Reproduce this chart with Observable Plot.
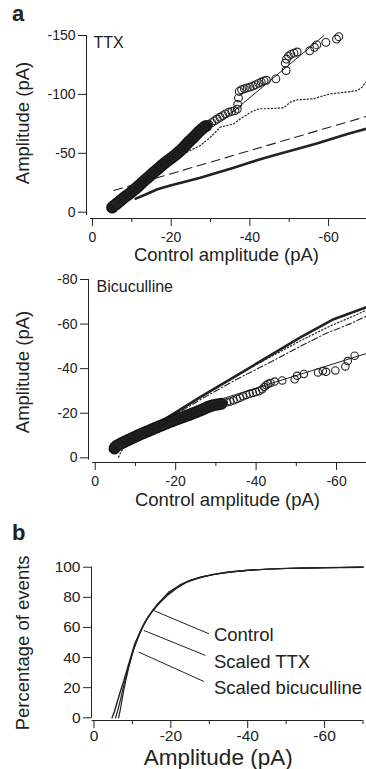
<!DOCTYPE html>
<html><head><meta charset="utf-8">
<script src="https://cdn.jsdelivr.net/npm/d3@7"></script>
<script src="https://cdn.jsdelivr.net/npm/@observablehq/plot@0.6"></script>
<style>
html,body{margin:0;padding:0;background:#fff;}
#wrap{position:relative;width:366px;height:769px;overflow:hidden;font-family:"Liberation Sans",Arial,sans-serif;color:#222;}
.panel{position:absolute;left:0;}
.panel svg{display:block;}
.lbl{position:absolute;font-weight:bold;font-size:22px;line-height:22px;}
</style></head><body>
<div id="wrap">
<div class="panel" id="p1" style="top:0px"></div>
<div class="panel" id="p2" style="top:260px"></div>
<div class="panel" id="p3" style="top:545px"></div>
<div class="lbl" style="left:12px;top:3px">a</div>
<div class="lbl" style="left:12px;top:522px">b</div>
</div>
<script>
const FONT = '"Liberation Sans", Arial, Helvetica, sans-serif';
const INK = "#222";
const fmt = d => String(d);

// ---------- Panel a, top: TTX ----------
const ttxCircleX = [-5.0,-5.2,-5.4,-5.7,-6.0,-6.3,-6.6,-7.0,-7.4,-7.8,-8.2,-8.7,-9.2,-9.7,-10.2,-10.8,-11.4,-12.0,-12.6,-13.2,-13.8,-14.4,-15.0,-15.6,-16.2,-16.8,-17.4,-18.0,-18.6,-19.2,-19.8,-20.4,-21.0,-21.6,-22.2,-22.8,-23.4,-24.0,-24.6,-25.2,-25.8,-26.4,-27.0,-27.6,-28.2,-28.9,-29.6,-30.3,-31.0,-31.7,-32.4,-33.1,-33.8,-34.6,-35.4,-36.2,-36.8,-36.9,-37.1,-37.3,-37.9,-38.6,-39.3,-40.0,-40.8,-41.5,-42.2,-42.9,-43.6,-44.2,-46.6,-49.2,-49.0,-49.3,-49.8,-50.4,-51.2,-52.0,-55.2,-56.4,-57.0,-59.3,-62.0,-62.6];
const ttxCircleY = [-4.0,-4.6,-5.3,-6.0,-6.8,-7.6,-8.5,-9.5,-10.6,-11.7,-12.8,-14.0,-15.3,-16.6,-18.0,-19.6,-21.3,-23.2,-25.0,-26.9,-28.6,-30.3,-32.1,-33.9,-35.6,-37.3,-39.0,-40.8,-42.4,-43.9,-45.4,-46.9,-48.5,-50.2,-51.9,-53.8,-55.9,-58.1,-60.2,-62.1,-64.0,-66.0,-68.1,-70.0,-71.8,-73.2,-74.4,-76.0,-77.6,-79.1,-80.6,-82.0,-83.5,-84.8,-85.6,-86.2,-87.5,-91.5,-97.0,-102.5,-104.0,-104.8,-105.5,-106.2,-107.1,-108.3,-109.4,-110.5,-111.5,-112.0,-113.2,-120.3,-126.5,-130.0,-132.5,-134.0,-135.0,-136.0,-137.0,-140.0,-142.0,-144.2,-147.0,-149.0];
const ttxDenseUntil = -28.9; // densely overlapping part of the circle cloud
const ttxFitX = [-33.0, -58.8];
const ttxFitY = [-77.7, -149.9];
const ttxDottedX = [-20.0,-24.0,-27.4,-30.0,-32.5,-35.9,-37.6,-40.2,-42.3,-44.4,-48.6,-50.3,-52.0,-56.2,-58.8,-60.5,-65.6,-67.3,-68.5,-69.4];
const ttxDottedY = [-44.0,-51.0,-56.6,-63.7,-72.2,-75.0,-79.3,-84.9,-87.8,-87.8,-88.6,-93.4,-95.4,-96.3,-99.0,-100.5,-102.4,-103.3,-106.1,-110.4];
const ttxDashedX = [-5.4, -69.6];
const ttxDashedY = [-18.4, -81.3];
const ttxSolidX = [-11.0,-13.5,-16.5,-20.0,-24.0,-27.4,-31.0,-35.9,-40.0,-44.4,-48.5,-52.9,-57.0,-61.3,-65.0,-69.6];
const ttxSolidY = [-11.5,-15.0,-19.5,-22.8,-26.3,-29.2,-32.8,-37.8,-42.2,-46.7,-50.5,-54.5,-58.3,-62.8,-66.6,-70.9];

// ---------- Panel a, bottom: Bicuculline ----------
const bicCircleX = [-4.8,-5.0,-5.3,-5.7,-6.1,-6.6,-7.1,-7.6,-8.2,-8.8,-9.4,-10.0,-10.6,-11.2,-11.8,-12.4,-13.0,-13.6,-14.2,-14.8,-15.4,-16.0,-16.6,-17.2,-17.8,-18.4,-19.0,-19.6,-20.2,-20.8,-21.4,-22.0,-22.6,-23.2,-23.8,-24.4,-25.0,-25.6,-26.2,-26.8,-27.4,-28.0,-28.6,-29.2,-29.9,-30.6,-31.3,-32.0,-32.8,-33.6,-34.4,-35.2,-36.0,-36.8,-37.6,-38.4,-39.2,-40.0,-40.8,-41.5,-42.0,-42.5,-43.0,-43.6,-44.6,-46.5,-49.6,-50.2,-51.9,-55.4,-56.6,-57.4,-59.7,-62.2,-62.8,-64.5];
const bicCircleY = [-4.2,-4.8,-5.3,-5.7,-6.1,-6.6,-7.0,-7.5,-8.0,-8.5,-9.0,-9.5,-10.0,-10.5,-11.0,-11.4,-11.9,-12.3,-12.8,-13.3,-13.7,-14.2,-14.6,-15.1,-15.5,-16.0,-16.4,-16.8,-17.2,-17.6,-18.0,-18.4,-18.8,-19.2,-19.6,-20.0,-20.4,-20.9,-21.3,-21.8,-22.3,-22.8,-23.2,-23.5,-23.8,-24.0,-24.2,-24.5,-24.9,-25.3,-25.8,-26.4,-27.0,-27.6,-28.2,-28.7,-29.1,-29.5,-30.0,-30.8,-31.8,-32.6,-33.2,-33.6,-34.2,-34.7,-35.2,-36.8,-37.6,-38.3,-38.9,-38.6,-39.2,-41.0,-43.4,-45.8];
const bicDenseUntil = -31.3;
const bicFitX = [-30.0, -67.45];
const bicFitY = [-25.6, -46.8];
const bicSolidX = [-11.0,-14.6,-20.0,-26.2,-34.5,-42.8,-51.0,-59.3,-67.45];
const bicSolidY = [-10.4,-14.3,-20.4,-27.3,-36.2,-45.2,-54.0,-62.2,-67.6];
const bicDottedX = [-5.8,-6.5,-8.0,-11.0,-15.0,-20.0,-27.8,-34.5,-42.8,-51.0,-58.0,-65.1,-67.45];
const bicDottedY = [-0.3,-3.0,-6.5,-10.0,-14.3,-20.0,-28.8,-36.3,-44.5,-52.5,-58.8,-64.3,-66.3];
const bicDashDotX = [-11.0,-20.0,-27.8,-34.5,-42.8,-51.0,-57.0,-63.5,-67.45];
const bicDashDotY = [-10.2,-19.6,-27.8,-34.6,-42.2,-50.0,-55.5,-60.2,-63.6];

// ---------- Panel b: cumulative distributions ----------
const cdfControlX = [-4.7,-5.3,-6.0,-6.8,-7.8,-8.7,-9.6,-10.6,-11.7,-12.8,-14.0,-15.3,-16.8,-18.5,-20.5,-22.7,-25.0,-27.7,-31.0,-35.0,-40.0,-45.0,-50.0,-55.0,-60.0,-65.0,-70.0];
const cdfControlY = [0,4,10,17,25,33,40.5,49,55,61,66.5,71.5,76.3,80.8,85,88.6,91.2,93.3,95.2,96.8,98.0,98.7,99.2,99.5,99.7,99.85,100];
const cdfTtxX = [-6.4,-6.9,-7.5,-8.2,-9.0,-9.9,-10.9,-12.0,-13.2,-14.5,-16.0,-17.8,-19.4,-20.5,-22.5,-25.0,-28.0,-32.0,-36.0,-40.0,-46.0,-52.0,-58.0,-64.0,-70.0];
const cdfTtxY = [0,6,15,24,33,42,50.5,57.5,63.5,68.5,73.5,78.5,83.5,84.8,88.3,91.3,93.6,95.5,96.9,97.9,98.8,99.3,99.6,99.8,100];
const cdfBicX = [-5.6,-6.2,-6.9,-7.7,-8.6,-9.5,-10.5,-11.6,-12.7,-13.9,-15.3,-17.0,-19.0,-21.5,-24.0,-27.0,-30.5,-35.0,-40.0,-46.0,-52.0,-58.0,-64.0,-70.0];
const cdfBicY = [0,5,12,21,30,38.5,46.5,54,60.5,66,71,76,81,86,89.8,92.6,94.8,96.7,97.9,98.8,99.3,99.6,99.8,100];
const cdfLabels = ["Control", "Scaled TTX", "Scaled bicuculline"];
const leaderX1 = [-15.56, -12.96, -11.66];
const leaderY1 = [71.2, 58.0, 43.6];
const leaderX2 = [-29.9, -29.0, -28.6];
const leaderY2 = [55.8, 41.4, 24.1];
const labelX = -31.2;
const labelY = [54.8, 37.2, 19.4];

// tick values
const ttxYTicks = [0, -50, -100, -150];
const bicYTicks = [0, -20, -40, -60, -80];
const cdfYTicks = [0, 20, 40, 60, 80, 100];
const xMajorTicks = [0, -20, -40, -60];
const xMinorTicks = [-10, -30, -50, -70];

const pts = (xs, ys) => xs.map((x, i) => ({x, y: ys[i]}));

function frameMarks(c) {
  return [
    Plot.ruleX([c.xDomain[0]], {y1: c.yAxisFrom, y2: c.yDomain[1], stroke: INK, strokeWidth: 1}),
    Plot.ruleY([c.yDomain[0]], {x1: c.xAxisFrom, x2: c.xDomain[1], stroke: INK, strokeWidth: 1}),
    Plot.axisX({anchor: "bottom", ticks: xMajorTicks, tickSize: 8, tickFormat: () => "", label: null, stroke: INK}),
    Plot.axisX({anchor: "bottom", ticks: xMinorTicks, tickSize: 4, tickFormat: () => "", label: null, stroke: INK}),
    // tick labels sit a fixed offset below the x-axis line (offset expressed in the y scale)
    Plot.text(xMajorTicks, {x: d => d, y: () => c.xTickLabelAt, text: fmt, textAnchor: "middle", lineAnchor: "middle", fontSize: c.tickFont}),
    Plot.axisY({anchor: "left", ticks: c.yTicks, tickSize: 8, tickPadding: 3, tickFormat: fmt, fontSize: c.tickFont, label: null, stroke: INK}),
    Plot.text([c.xLabel], {text: d => d, frameAnchor: "bottom", textAnchor: "middle", lineAnchor: "middle", dx: c.xLabelDx, dy: c.xLabelDy, fontSize: c.xTitleFont}),
    Plot.text([c.yLabel], {text: d => d, frameAnchor: "left", textAnchor: "middle", lineAnchor: "middle", rotate: -90, dx: c.yLabelDx, dy: c.yLabelDy, fontSize: c.yTitleFont})
  ];
}

function makePlot(c, marks) {
  return Plot.plot({
    width: 366, height: c.height,
    marginLeft: c.ml, marginRight: c.mr, marginTop: c.mt, marginBottom: c.mb,
    x: {domain: c.xDomain},
    y: {domain: c.yDomain},
    style: {fontFamily: FONT, color: INK, background: "transparent", overflow: "visible"},
    marks: [...frameMarks(c), ...marks]
  });
}

// Panel a top
const c1 = {height: 260, ml: 86, mr: 0, mt: 35, mb: 42, xDomain: [1.52, -69.63], yDomain: [5.35, -150],
  yAxisFrom: 2.8, xAxisFrom: 0.5, yTicks: ttxYTicks, xTickLabelAt: 21.3, tickFont: 14,
  xLabel: "Control amplitude (pA)", xLabelDx: 0, xLabelDy: 36.5, xTitleFont: 18.5,
  yLabel: "Amplitude (pA)", yLabelDx: -63.5, yLabelDy: -4, yTitleFont: 18.5};
const ttxPts = pts(ttxCircleX, ttxCircleY);
const p1 = makePlot(c1, [
  Plot.text(["TTX"], {text: d => d, frameAnchor: "top-left", dx: 7, dy: 1, textAnchor: "start", lineAnchor: "top", fontSize: 16}),
  Plot.line(pts(ttxSolidX, ttxSolidY), {x: "x", y: "y", stroke: INK, strokeWidth: 2.6}),
  Plot.line(pts(ttxDashedX, ttxDashedY), {x: "x", y: "y", stroke: INK, strokeWidth: 1.1, strokeDasharray: "9,5.5"}),
  Plot.line(pts(ttxDottedX, ttxDottedY), {x: "x", y: "y", stroke: INK, strokeWidth: 1.2, strokeDasharray: "1.3,2.2"}),
  Plot.line(pts(ttxFitX, ttxFitY), {x: "x", y: "y", stroke: INK, strokeWidth: 1}),
  Plot.line(ttxPts.filter(d => d.x >= ttxDenseUntil), {x: "x", y: "y", stroke: "#141414", strokeWidth: 12, strokeLinecap: "round", strokeLinejoin: "round"}),
  Plot.dot(ttxPts, {x: "x", y: "y", r: 3.9, stroke: INK, strokeWidth: 1.1, fill: "none"})
]);
document.getElementById("p1").appendChild(p1);

// Panel a bottom
const c2 = {height: 250, ml: 88, mr: 0, mt: 19, mb: 48, xDomain: [1.67, -67.45], yDomain: [2.1, -80],
  yAxisFrom: 1.0, xAxisFrom: 0.67, yTicks: bicYTicks, xTickLabelAt: 10.8, tickFont: 14,
  xLabel: "Control amplitude (pA)", xLabelDx: 0, xLabelDy: 38, xTitleFont: 18.5,
  yLabel: "Amplitude (pA)", yLabelDx: -65, yLabelDy: 1, yTitleFont: 18.5};
const bicPts = pts(bicCircleX, bicCircleY);
const p2 = makePlot(c2, [
  Plot.text(["Bicuculline"], {text: d => d, frameAnchor: "top-left", dx: 8, dy: 1, textAnchor: "start", lineAnchor: "top", fontSize: 16}),
  Plot.line(pts(bicSolidX, bicSolidY), {x: "x", y: "y", stroke: INK, strokeWidth: 2.6}),
  Plot.line(pts(bicDottedX, bicDottedY), {x: "x", y: "y", stroke: INK, strokeWidth: 1.2, strokeDasharray: "1.3,2.2"}),
  Plot.line(pts(bicDashDotX, bicDashDotY), {x: "x", y: "y", stroke: INK, strokeWidth: 1.1, strokeDasharray: "6,2.5,1.3,2.5"}),
  Plot.line(pts(bicFitX, bicFitY), {x: "x", y: "y", stroke: INK, strokeWidth: 1}),
  Plot.line(bicPts.filter(d => d.x >= bicDenseUntil), {x: "x", y: "y", stroke: "#141414", strokeWidth: 12, strokeLinecap: "round", strokeLinejoin: "round"}),
  Plot.dot(bicPts, {x: "x", y: "y", r: 3.7, stroke: INK, strokeWidth: 1.1, fill: "none"})
]);
document.getElementById("p2").appendChild(p2);

// Panel b
const c3 = {height: 224, ml: 91, mr: 3.5, mt: 21.7, mb: 49, xDomain: [0.65, -70], yDomain: [-1.8, 100],
  yAxisFrom: -0.3, xAxisFrom: 0.5, yTicks: cdfYTicks, xTickLabelAt: -12.1, tickFont: 15.5,
  xLabel: "Amplitude (pA)", xLabelDx: -9, xLabelDy: 37, xTitleFont: 22.5,
  yLabel: "Percentage of events", yLabelDx: -68.5, yLabelDy: -1, yTitleFont: 18.5};
const leaders = cdfLabels.map((t, i) => ({t, x1: leaderX1[i], y1: leaderY1[i], x2: leaderX2[i], y2: leaderY2[i], ly: labelY[i]}));
const p3 = makePlot(c3, [
  Plot.line(pts(cdfControlX, cdfControlY), {x: "x", y: "y", stroke: INK, strokeWidth: 1.4}),
  Plot.line(pts(cdfTtxX, cdfTtxY), {x: "x", y: "y", stroke: INK, strokeWidth: 1.2}),
  Plot.line(pts(cdfBicX, cdfBicY), {x: "x", y: "y", stroke: INK, strokeWidth: 1.2}),
  Plot.link(leaders, {x1: "x1", y1: "y1", x2: "x2", y2: "y2", stroke: INK, strokeWidth: 1}),
  Plot.text(leaders, {x: () => labelX, y: "ly", text: "t", textAnchor: "start", lineAnchor: "middle", fontSize: 18.5})
]);
document.getElementById("p3").appendChild(p3);
</script>
</body></html>
